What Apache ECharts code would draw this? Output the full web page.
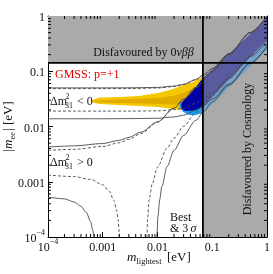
<!DOCTYPE html>
<html><head><meta charset="utf-8">
<script src="https://cdn.jsdelivr.net/npm/echarts@6/dist/echarts.min.js"></script>
<style>html,body{margin:0;padding:0;background:#fff}#c{width:273px;height:274px}</style>
</head><body><div id="c"></div>
<script>
// ---- tick labels ----
const tickLabels = ['10^−4', '0.001', '0.01', '0.1', '1'];

// ---- experimental bounds ----
const dbdBound = 0.1416;     // 0vbb upper bound on |m_ee|
const cosmoBound = 0.0675;   // cosmology bound on m_lightest

// ---- inverted ordering (Δm31^2 < 0) curves [m_lightest, |m_ee|] ----
const ihUpperBest = [[1e-4,0.0485],[3e-4,0.0485],[1e-3,0.0485],[3e-3,0.0486],[0.01,0.0497],[0.02,0.0527],[0.03,0.0572],[0.05,0.0699],[0.07,0.0859],[0.1,0.1115],[0.2,0.2063],[0.5,0.5025],[1,1.0]];
const ihUpper3s   = [[1e-4,0.0500],[3e-4,0.0500],[1e-3,0.0500],[3e-3,0.0502],[0.01,0.0510],[0.02,0.0539],[0.03,0.0583],[0.05,0.0709],[0.07,0.0868],[0.1,0.1122],[0.2,0.2068],[0.5,0.5028],[1,1.0]];
const ihLowerBest = [[1e-4,0.0190],[3e-4,0.0190],[1e-3,0.0190],[3e-3,0.0190],[0.01,0.0192],[0.02,0.0201],[0.03,0.0216],[0.05,0.0261],[0.07,0.0318],[0.1,0.0414],[0.2,0.0763],[0.5,0.186],[1,0.370]];
const ihLower3s   = [[1e-4,0.0138],[3e-4,0.0138],[1e-3,0.0138],[3e-3,0.0139],[0.01,0.0141],[0.02,0.0149],[0.03,0.0160],[0.05,0.0196],[0.07,0.0240],[0.1,0.0312],[0.2,0.0581],[0.5,0.1415],[1,0.282]];

// ---- normal ordering (Δm31^2 > 0) curves ----
const nhUpperBest = [[1e-4,0.00371],[3e-4,0.00386],[1e-3,0.00435],[2e-3,0.00508],[3e-3,0.00586],[5e-3,0.00747],[0.01,0.01187],[0.02,0.02132],[0.03,0.03103],[0.05,0.05077],[0.1,0.1006],[0.2,0.2003],[0.5,0.5001],[1,1.0]];
const nhUpper3s   = [[1e-4,0.00426],[3e-4,0.00446],[1e-3,0.00492],[2e-3,0.00562],[3e-3,0.00635],[5e-3,0.00791],[0.01,0.01218],[0.02,0.0215],[0.03,0.0311],[0.05,0.0508],[0.1,0.1007],[0.2,0.2004],[0.5,0.5002],[1,1.0]];
const nhLowerBestL = [[1e-4,0.00132],[3e-4,0.00124],[6e-4,0.00110],[1e-3,0.00088],[1.3e-3,0.00068],[1.6e-3,0.00046],[1.8e-3,0.00030],[1.9e-3,0.00021],[2.0e-3,0.00012],[2.1e-3,0.00005],[2.15e-3,0.00002]];
const nhLower3sL   = [[1e-4,0.00053],[2e-4,0.00049],[3e-4,0.00043],[4e-4,0.00036],[5e-4,0.00028],[6e-4,0.00019],[6.6e-4,0.00013],[7e-4,0.00009],[7.4e-4,0.00005],[7.8e-4,0.00002]];
const nhLowerBestR = [[0.0062,0.00001],[0.0064,0.00010],[0.0066,0.00022],[0.007,0.00046],[0.008,0.00091],[0.01,0.00185],[0.015,0.00408],[0.02,0.00612],[0.03,0.01013],[0.05,0.01783],[0.07,0.0254],[0.1,0.0366],[0.2,0.0739],[0.5,0.185],[1,0.370]];
const nhLower3sR   = [[0.0094,0.00001],[0.0096,0.00006],[0.0098,0.00012],[0.0102,0.00024],[0.011,0.00048],[0.012,0.00082],[0.015,0.0019],[0.02,0.0037],[0.03,0.0069],[0.05,0.0129],[0.07,0.0188],[0.1,0.0276],[0.2,0.0557],[0.5,0.140],[1,0.28]];

// ---- GMSS p=+1 regions (outlines) ----
const gmssYellowOuter = [[5.95e-4,0.0290],[6.47e-4,0.0302],[8.65e-4,0.0335],[0.00198,0.0342],[0.00455,0.0357],[0.0104,0.0404],[0.0194,0.0477],[0.0294,0.0564],[0.0446,0.0639],[0.0621,0.0771],[0.0675,0.0804],[0.0675,0.0302],[0.027,0.0199],[0.0194,0.0207],[0.0104,0.0225],[0.00455,0.0235],[0.00198,0.0245],[8.65e-4,0.0255],[6.47e-4,0.0272]];
const gmssYellowInner = [[7.03e-4,0.0296],[0.00198,0.0308],[0.00455,0.0315],[0.0104,0.0328],[0.0194,0.0357],[0.0294,0.0404],[0.0446,0.0498],[0.0675,0.0639],[0.0675,0.0302],[0.0294,0.0250],[0.0194,0.0250],[0.0104,0.0255],[0.00455,0.0261],[0.00198,0.0266],[7.03e-4,0.0278]];
const gmssCyan = [[0.0249,0.0255],[0.0259,0.0216],[0.0294,0.0183],[0.0362,0.0165],[0.0446,0.0158],[0.0548,0.0165],[0.0675,0.0179],[0.0675,0.0245],[0.0320,0.0278],[0.0270,0.0278]];
const gmssBlue = [[0.0270,0.0245],[0.0282,0.0278],[0.0320,0.0315],[0.0394,0.0388],[0.0505,0.0519],[0.0621,0.0680],[0.0675,0.0739],[0.0675,0.0225],[0.0548,0.0207],[0.0446,0.0195],[0.0362,0.0191],[0.0306,0.0195],[0.0276,0.0212]];
const gmssBlueHigh = [[0.0675,0.0739],[1,0.92],[1,0.368],[0.0675,0.0225]];
const gmssCyanHigh = [[0.0675,0.0225],[1,0.368],[1,0.242],[0.0675,0.0176]];

// ---- excluded regions ----
const excl0vbb = [[1e-4,dbdBound],[1,dbdBound],[1,1],[1e-4,1]];
const exclCosmo = [[cosmoBound,1e-4],[1,1e-4],[1,1],[cosmoBound,1]];

const minorVals = [];
for (let e = -4; e <= -1; e++) for (let k = 2; k <= 9; k++) minorVals.push(k * Math.pow(10, e));

const SERIF = '"Liberation Serif","DejaVu Serif",serif';
const chart = echarts.init(document.getElementById('c'), null, {renderer: 'canvas'});

function poly(pts, fill, z) {
  return {type: 'custom', silent: true, z, clip: true, data: [pts[0]],
    renderItem: (p, api) => ({type: 'polygon', shape: {points: pts.map(q => api.coord(q))}, style: {fill}})};
}
function ln(pts, dashed, z) {
  return {type: 'line', data: pts, showSymbol: false, symbol: 'none', smooth: 0.3, smoothMonotone: 'x',
    clip: true, z: z || 6, silent: true, animation: false,
    lineStyle: {color: '#4a4a4a', width: 0.9, type: dashed ? [3, 2] : 'solid'}};
}
function bound(pts) {
  return {type: 'line', data: pts, showSymbol: false, symbol: 'none', clip: true, z: 8, silent: true,
    lineStyle: {color: '#000', width: 1.8}};
}
const labelRich = {
  a: {fontFamily: SERIF, fontSize: 12, color: '#111', lineHeight: 16, verticalAlign: 'bottom'},
  s: {fontFamily: SERIF, fontSize: 8, color: '#111', lineHeight: 8, verticalAlign: 'top'}
};
function fmt(v) {
  const i = Math.round(Math.log10(v)) + 4;
  const t = tickLabels[i];
  if (t === undefined) return '';
  if (t.indexOf('^') >= 0) { const [b, s] = t.split('^'); return '{a|' + b + '}{s|' + s + '}'; }
  return '{a|' + t + '}';
}
const axBase = {type: 'log', logBase: 10, min: 1e-4, max: 1, splitLine: {show: false},
  axisLine: {show: true, lineStyle: {color: '#000', width: 1}},
  axisTick: {show: true, inside: true, length: 5, lineStyle: {color: '#000', width: 1}}};

const minorSeries = {
  type: 'custom', silent: true, z: 9, data: minorVals.map(v => [v, v]),
  renderItem: (p, api) => {
    const v = minorVals[p.dataIndex];
    const b = api.coord([v, 1e-4]), t = api.coord([v, 1]), l = api.coord([1e-4, v]), r = api.coord([1, v]);
    const st = {stroke: '#000', lineWidth: 1};
    return {type: 'group', children: [
      {type: 'line', shape: {x1: b[0], y1: b[1], x2: b[0], y2: b[1] - 3}, style: st},
      {type: 'line', shape: {x1: t[0], y1: t[1], x2: t[0], y2: t[1] + 3}, style: st},
      {type: 'line', shape: {x1: l[0], y1: l[1], x2: l[0] + 3, y2: l[1]}, style: st},
      {type: 'line', shape: {x1: r[0], y1: r[1], x2: r[0] - 3, y2: r[1]}, style: st}
    ]};
  }
};

function txt(x, y, text, size, opts) {
  return Object.assign({type: 'text', x, y, z: 100, silent: true,
    style: Object.assign({text, font: (opts && opts.italic ? 'italic ' : '') + size + 'px ' + SERIF,
      fill: (opts && opts.fill) || '#111', align: (opts && opts.align) || 'left', verticalAlign: 'middle',
      textAlign: (opts && opts.align) || 'left', textVerticalAlign: 'middle'}, (opts && opts.style) || {})},
    (opts && opts.el) || {});
}

const option = {
  animation: false,
  backgroundColor: '#fff',
  grid: {left: 48, right: 3, top: 16, bottom: 37, containLabel: false},
  xAxis: [
    Object.assign({}, axBase, {position: 'bottom', axisLabel: {formatter: fmt, rich: labelRich, margin: 1}}),
    Object.assign({}, axBase, {position: 'top', axisLabel: {show: false}})
  ],
  yAxis: [
    Object.assign({}, axBase, {position: 'left', axisLabel: {formatter: fmt, rich: labelRich, margin: 3}}),
    Object.assign({}, axBase, {position: 'right', axisLabel: {show: false}})
  ],
  series: [
    poly(excl0vbb, '#aaaaaa', 1),
    poly(exclCosmo, '#aaaaaa', 1),
    poly(gmssYellowOuter, '#f5c700', 2),
    poly(gmssYellowInner, '#e2ab00', 3),
    poly(gmssCyan, '#1a9ef5', 4),
    poly(gmssBlue, '#0000a5', 5),
    poly(gmssBlueHigh, '#5a5a9e', 5),
    poly(gmssCyanHigh, '#6ea3cc', 5),
    ln(ihUpperBest, true), ln(ihUpper3s, false), ln(ihLowerBest, true), ln(ihLower3s, false),
    ln(nhUpperBest, true), ln(nhUpper3s, false),
    ln(nhLowerBestL, true), ln(nhLower3sL, false), ln(nhLowerBestR, true), ln(nhLower3sR, false),
    bound([[1e-4, dbdBound], [1, dbdBound]]),
    bound([[cosmoBound, 1e-4], [cosmoBound, 1]]),
    minorSeries
  ],
  graphic: [
    {type: 'text', x: 143.5, y: 53, z: 100, silent: true, style: {
      text: '{a|Disfavoured by 0}{b|νββ}', align: 'center', verticalAlign: 'middle', textAlign: 'center', textVerticalAlign: 'middle',
      rich: {a: {fontFamily: SERIF, fontSize: 12, fill: '#111', color: '#111'}, b: {fontFamily: SERIF, fontStyle: 'italic', fontSize: 12, fill: '#111', color: '#111'}}}},
    txt(248, 149, 'Disfavoured by Cosmology', 12, {align: 'center', el: {rotation: Math.PI / 2}}),
    txt(55, 75, 'GMSS: p=+1', 12, {fill: '#e60000'}),
    txt(50, 102, 'Δm', 12), txt(65.5, 96.5, '2', 8), txt(65, 106, '31', 8), txt(77, 102, '< 0', 12),
    txt(50, 163, 'Δm', 12), txt(65.5, 157.5, '2', 8), txt(65, 167, '31', 8), txt(77, 163, '> 0', 12),
    txt(170, 218, 'Best', 12), txt(170, 229, '& 3', 12), txt(190.5, 229, 'σ', 12, {italic: true}),
    txt(127, 258, 'm', 13, {italic: true}), txt(136.5, 262, 'lightest', 8.5), txt(167, 258, '[eV]', 13),
    {type: 'group', x: 9, y: 152, rotation: Math.PI / 2, z: 100, silent: true, children: [
      txt(0, 0, '|', 13), txt(3, 0, 'm', 13, {italic: true}), txt(12.5, 4, 'ee', 8.5), txt(21, 0, '|', 13), txt(27, 0, '[eV]', 13)
    ]}
  ]
};
chart.setOption(option);
</script></body></html>
